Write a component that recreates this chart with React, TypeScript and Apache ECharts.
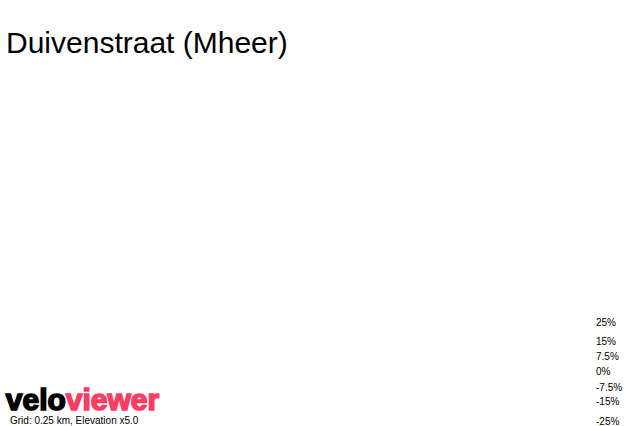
import React, { useEffect, useRef } from "react";
import * as echarts from "echarts";

const titleText = "Duivenstraat (Mheer)";
const gradientLabels = ["25%", "15%", "7.5%", "0%", "-7.5%", "-15%", "-25%"];
const logoParts = ["velo", "viewer"];
const footnote = "Grid: 0.25 km, Elevation x5.0";

// layout only
const labelY = [323, 342, 357, 372, 388, 402, 422];

export default function App() {
  const ref = useRef<HTMLDivElement>(null);
  useEffect(() => {
    document.body.style.margin = "0";
    if (!ref.current) return;
    const chart = echarts.init(ref.current, undefined, { renderer: "svg" });
    const font = "Liberation Sans, Arial, sans-serif";
    chart.setOption({
      animation: false,
      backgroundColor: "#ffffff",
      title: {
        text: titleText,
        left: 1,
        top: 22,
        textStyle: { fontSize: 30, fontWeight: "normal", color: "#000", fontFamily: font },
      },
      graphic: [
        ...gradientLabels.map((t, i) => ({
          type: "text",
          left: 596,
          top: labelY[i] - 6,
          style: { text: t, fontSize: 10, fill: "#000", font: `10px ${font}` },
        })),
        {
          type: "text",
          left: 5,
          top: 384,
          style: {
            text: `{a|${logoParts[0]}}{b|${logoParts[1]}}`,
            rich: {
              a: { fontSize: 30, fontWeight: 900, fill: "#000", stroke: "#000", lineWidth: 1.6, fontFamily: font },
              b: { fontSize: 30, fontWeight: 900, fill: "#ff3d63", stroke: "#ff3d63", lineWidth: 1.6, fontFamily: font },
            },
          },
        },
        {
          type: "text",
          left: 10,
          top: 415,
          style: { text: footnote, fontSize: 10, fill: "#000", font: `10px ${font}` },
        },
      ],
      series: [],
    });
    return () => chart.dispose();
  }, []);
  return <div ref={ref} style={{ width: 636, height: 426 }} />;
}
